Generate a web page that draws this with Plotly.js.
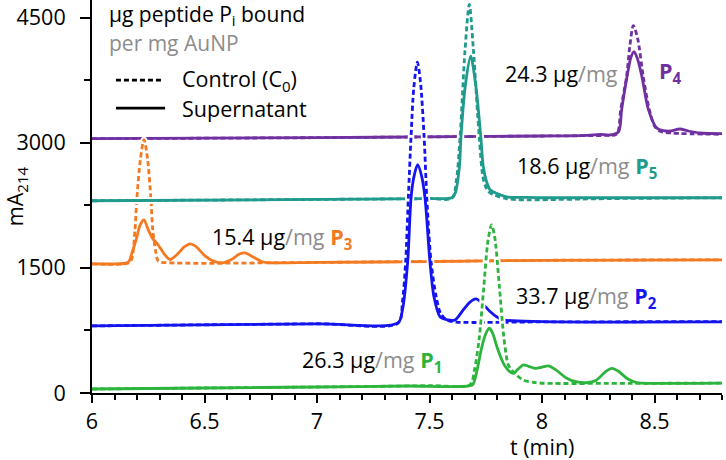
<!DOCTYPE html>
<html>
<head>
<meta charset="utf-8">
<script src="https://cdn.plot.ly/plotly-3.0.1.min.js"></script>
<style>
  html, body { margin: 0; padding: 0; background: #fff; }
  #chart { width: 726px; height: 460px; }
</style>
</head>
<body>
<div id="chart"></div>
<script>
// values (t in min, signal in mA214)
var p1CtrlT = [6.0, 6.5, 7.0, 7.5, 7.68, 7.70, 7.72, 7.74, 7.76, 7.776, 7.79, 7.81, 7.83, 7.85, 7.873, 7.917, 7.97, 8.02, 8.4, 8.8];
var p1CtrlY = [48, 60, 72, 88, 100, 280, 632, 1228, 1826, 2016, 1868, 1296, 682, 340, 250, 156, 125, 116, 116, 118];
var p1SupT = [6.0, 6.5, 7.0, 7.4, 7.69, 7.70, 7.715, 7.73, 7.747, 7.766, 7.78, 7.799, 7.818, 7.836, 7.855, 7.873, 7.895, 7.917, 7.94, 7.969, 8.0, 8.028, 8.06, 8.11, 8.15, 8.199, 8.24, 8.28, 8.31, 8.34, 8.38, 8.421, 8.5, 8.8];
var p1SupY = [48, 60, 72, 84, 96, 150, 320, 520, 690, 776, 720, 560, 420, 320, 260, 236, 290, 336, 320, 296, 310, 324, 280, 176, 135, 124, 150, 250, 296, 260, 170, 124, 116, 118];

var p2CtrlT = [6.0, 7.0, 7.36, 7.38, 7.394, 7.406, 7.418, 7.43, 7.446, 7.46, 7.476, 7.488, 7.507, 7.53, 7.55, 7.58, 7.62, 8.0, 8.8];
var p2CtrlY = [804, 830, 838, 1100, 1572, 2340, 3072, 3652, 3964, 3724, 3072, 2340, 1572, 1150, 950, 870, 850, 852, 856];
var p2SupT = [6.0, 7.0, 7.36, 7.38, 7.403, 7.418, 7.43, 7.447, 7.465, 7.48, 7.502, 7.52, 7.547, 7.575, 7.613, 7.65, 7.68, 7.707, 7.74, 7.769, 7.80, 7.828, 8.0, 8.8];
var p2SupY = [804, 828, 840, 1000, 1572, 2340, 2580, 2736, 2600, 2340, 1572, 1150, 912, 880, 876, 996, 1090, 1128, 1060, 976, 910, 876, 856, 852];

var p3CtrlT = [6.0, 6.16, 6.176, 6.191, 6.199, 6.215, 6.231, 6.247, 6.262, 6.27, 6.283, 6.295, 6.35, 7.0, 8.0, 8.8];
var p3CtrlY = [1548, 1556, 1600, 1956, 2316, 2800, 3036, 2800, 2316, 1956, 1700, 1580, 1560, 1565, 1590, 1596];
var p3SupT = [6.0, 6.15, 6.165, 6.18, 6.196, 6.215, 6.231, 6.25, 6.27, 6.288, 6.31, 6.324, 6.347, 6.384, 6.41, 6.436, 6.46, 6.5, 6.54, 6.578, 6.62, 6.655, 6.68, 6.71, 6.76, 6.8, 7.0, 7.5, 8.0, 8.8];
var p3SupY = [1548, 1556, 1580, 1700, 1836, 2020, 2076, 1956, 1850, 1796, 1710, 1656, 1600, 1676, 1750, 1788, 1760, 1650, 1580, 1560, 1600, 1665, 1680, 1640, 1570, 1560, 1565, 1575, 1590, 1596];

var p4CtrlT = [6.0, 7.0, 7.6, 8.0, 8.3, 8.325, 8.338, 8.35, 8.376, 8.39, 8.406, 8.425, 8.45, 8.477, 8.50, 8.524, 8.58, 8.8];
var p4CtrlY = [3048, 3060, 3072, 3080, 3088, 3092, 3130, 3396, 3792, 4150, 4404, 4250, 3792, 3396, 3200, 3136, 3115, 3100];
var p4SupT = [6.0, 7.0, 7.6, 8.0, 8.2, 8.26, 8.3, 8.34, 8.354, 8.378, 8.395, 8.409, 8.425, 8.444, 8.473, 8.51, 8.54, 8.569, 8.613, 8.65, 8.702, 8.8];
var p4SupY = [3048, 3060, 3072, 3080, 3088, 3100, 3092, 3130, 3396, 3792, 4020, 4092, 4000, 3792, 3396, 3176, 3145, 3140, 3164, 3140, 3116, 3108];

var p5CtrlT = [6.0, 7.0, 7.5, 7.60, 7.62, 7.636, 7.658, 7.677, 7.695, 7.721, 7.74, 7.76, 7.784, 7.84, 7.902, 8.3, 8.8];
var p5CtrlY = [2304, 2320, 2330, 2336, 2560, 3072, 4116, 4656, 4116, 3072, 2550, 2420, 2376, 2330, 2316, 2330, 2340];
var p5SupT = [6.0, 7.0, 7.5, 7.60, 7.615, 7.633, 7.64, 7.66, 7.683, 7.705, 7.728, 7.739, 7.755, 7.769, 7.80, 7.843, 7.92, 8.0, 8.8];
var p5SupY = [2304, 2320, 2330, 2340, 2400, 2712, 3072, 3700, 4036, 3700, 3072, 2712, 2520, 2436, 2390, 2350, 2345, 2340, 2340];

var peptideNames = ['P<sub>1</sub>', 'P<sub>2</sub>', 'P<sub>3</sub>', 'P<sub>4</sub>', 'P<sub>5</sub>'];
var boundAmounts = ['26.3', '33.7', '15.4', '24.3', '18.6'];

var colors = ['#2cb43c', '#1414f0', '#f47a22', '#7030a0', '#1f9a8c'];
var grey = '#8c8c8c';
var font = 'Open Sans, sans-serif';
var fsize = 21.5;

var series = [
    {t1: p1CtrlT, y1: p1CtrlY, t2: p1SupT, y2: p1SupY},
    {t1: p2CtrlT, y1: p2CtrlY, t2: p2SupT, y2: p2SupY},
    {t1: p3CtrlT, y1: p3CtrlY, t2: p3SupT, y2: p3SupY},
    {t1: p4CtrlT, y1: p4CtrlY, t2: p4SupT, y2: p4SupY},
    {t1: p5CtrlT, y1: p5CtrlY, t2: p5SupT, y2: p5SupY}
];

function lineTrace(x, y, color, width, dash) {
    return {
        x: x, y: y, mode: 'lines', type: 'scatter',
        line: {color: color, width: width, dash: dash, shape: 'spline', smoothing: 0.8},
        hoverinfo: 'skip', showlegend: false
    };
}

// drawing order, bottom to top: P4, P3, P5, P2, P1
var order = [3, 2, 4, 1, 0];
var data = [];
order.forEach(function (i) {
    var s = series[i];
    data.push(lineTrace(s.t1, s.y1, 'white', 6.5, 'solid'));
    data.push(lineTrace(s.t2, s.y2, 'white', 6.5, 'solid'));
    data.push(lineTrace(s.t1, s.y1, colors[i], 2.8, '5px,3px'));
    data.push(lineTrace(s.t2, s.y2, colors[i], 2.8, 'solid'));
});

function amountText(i) {
    return boundAmounts[i] + ' µg<span style="color:' + grey + '">/mg</span>';
}

function nameText(i) {
    return '<b><span style="color:' + colors[i] + '">' + peptideNames[i] + '</span></b>';
}

function dataNote(text, x, y) {
    return {
        x: x, y: y, xref: 'x', yref: 'y', xanchor: 'left', yanchor: 'middle',
        showarrow: false, font: {family: font, size: fsize, color: '#000'}, text: text
    };
}

function label(i, x, y) {
    return dataNote(amountText(i) + ' ' + nameText(i), x, y);
}

function note(text, x, y, color, anchor, size) {
    return {
        x: x, y: y, xref: 'paper', yref: 'paper', xanchor: anchor || 'left', yanchor: 'middle',
        showarrow: false, font: {family: font, size: size || fsize, color: color}, text: text
    };
}

var axisCommon = {
    showline: true, linecolor: '#000', linewidth: 2,
    ticks: 'outside', tickcolor: '#000', tickwidth: 2,
    showgrid: false, zeroline: false,
    tickfont: {family: font, size: fsize, color: '#000'}
};

var layout = {
    width: 726, height: 460,
    margin: {l: 92, r: 4, t: 0, b: 67},
    paper_bgcolor: '#fff', plot_bgcolor: '#fff',
    showlegend: false,
    xaxis: Object.assign({}, axisCommon, {
        range: [6, 8.8], dtick: 0.5, tick0: 6, ticklen: 8,
        minor: {dtick: 0.1, ticks: 'outside', ticklen: 5, tickwidth: 2, tickcolor: '#000'}
    }),
    yaxis: Object.assign({}, axisCommon, {
        range: [0, 4710], dtick: 1500, tick0: 0, ticklen: 10, ticklabelstandoff: 10,
        minor: {dtick: 750, ticks: 'outside', ticklen: 6, tickwidth: 2, tickcolor: '#000'},
        title: {text: 'mA<sub>214</sub>', font: {family: font, size: fsize, color: '#000'}, standoff: 4}
    }),
    shapes: [
        {type: 'line', xref: 'paper', yref: 'paper', x0: 0.038, x1: 0.114, y0: 0.796, y1: 0.796,
         line: {color: '#000', width: 2.8, dash: '5px,3px'}},
        {type: 'line', xref: 'paper', yref: 'paper', x0: 0.038, x1: 0.116, y0: 0.725, y1: 0.725,
         line: {color: '#000', width: 2.8}}
    ],
    annotations: [
        note('µg peptide P<sub>i</sub> bound', 0.024, 0.962, '#000', 'left', 21),
        note('per mg AuNP', 0.024, 0.891, grey, 'left', 21),
        note('Control (C<sub>0</sub>)', 0.1397, 0.796, '#000'),
        note('Supernatant', 0.1397, 0.725, '#000'),
        note('t (min)', 0.714, -0.137, '#000', 'center'),
        // P4 label is split around its peak
        dataNote(amountText(3), 7.827, 3828),
        dataNote(nameText(3), 8.511, 3850),
        label(4, 7.88, 2712),
        label(2, 6.524, 1860),
        label(1, 7.876, 1152),
        label(0, 6.924, 384)
    ]
};

Plotly.newPlot('chart', data, layout, {displayModeBar: false, staticPlot: true});
</script>
</body>
</html>
